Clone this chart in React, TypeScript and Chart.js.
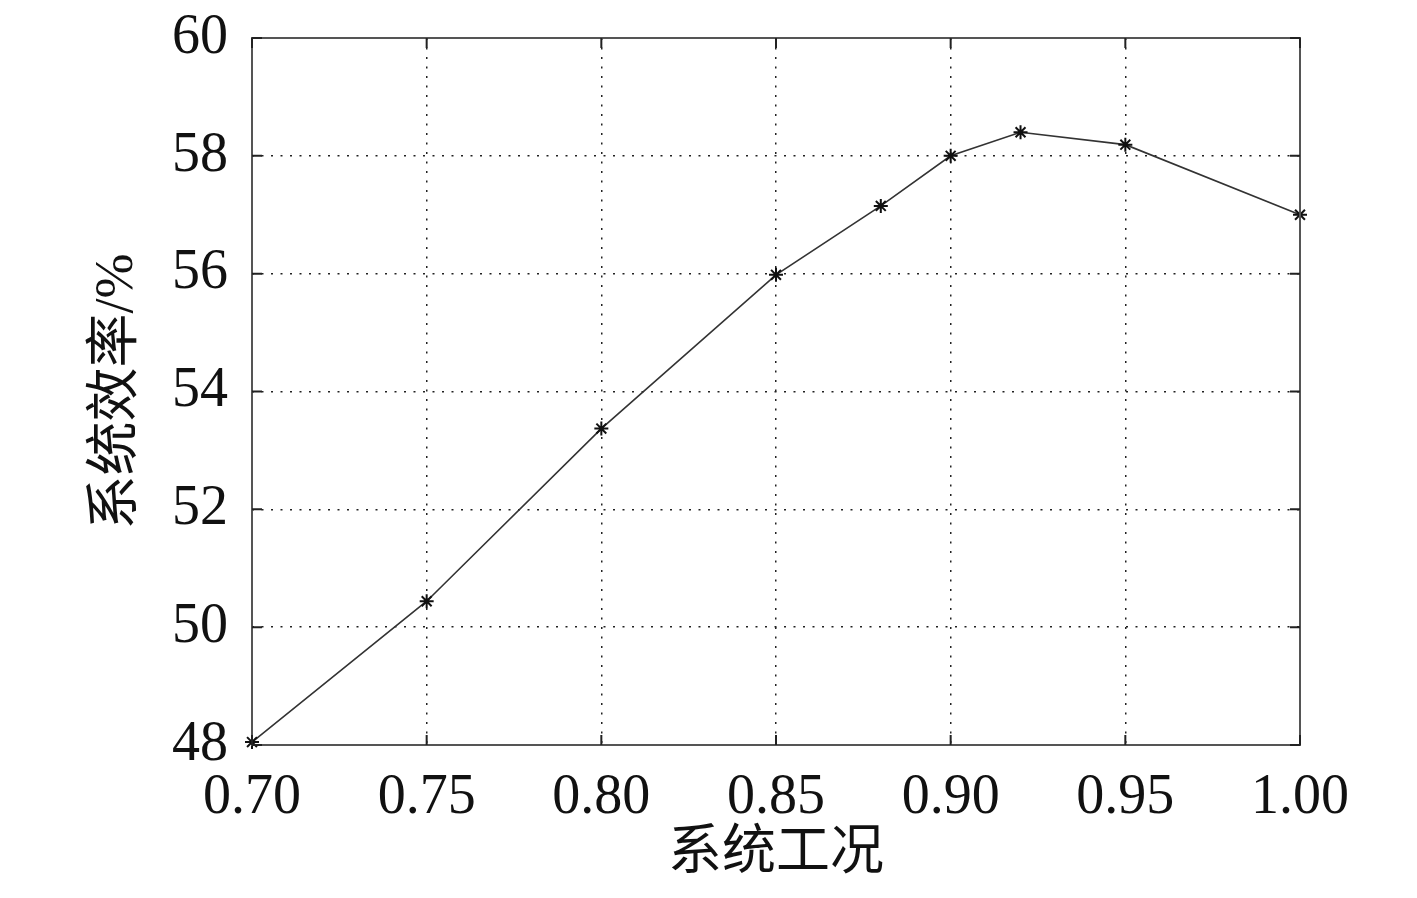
import React, { useEffect, useRef } from "react";
import { Chart, registerables } from "chart.js";

Chart.register(...registerables);

const xValues = [0.7, 0.75, 0.8, 0.85, 0.88, 0.9, 0.92, 0.95, 1.0];
const efficiency = [48.05, 50.44, 53.37, 55.98, 57.15, 58.0, 58.4, 58.19, 57.0];
const xTitle = "系统工况";
const yTitle = "系统效率/%";
const xTicks = [0.7, 0.75, 0.8, 0.85, 0.9, 0.95, 1.0];
const yTicks = [48, 50, 52, 54, 56, 58, 60];

const FONT = '"Liberation Serif", "Noto Sans CJK SC", serif';

const framePlugin = {
  id: "frame",
  afterDraw(chart: any) {
    const { ctx, chartArea } = chart;
    const { left, right, top, bottom } = chartArea;
    const xs = chart.scales.x;
    const ys = chart.scales.y;
    ctx.save();
    ctx.strokeStyle = "#555";
    ctx.lineWidth = 2;
    ctx.strokeRect(left, top, right - left, bottom - top);
    ctx.strokeStyle = "#222";
    ctx.lineWidth = 2;
    const tl = 10;
    xTicks.forEach((v) => {
      const px = xs.getPixelForValue(v);
      ctx.beginPath();
      ctx.moveTo(px, bottom);
      ctx.lineTo(px, bottom - tl);
      ctx.moveTo(px, top);
      ctx.lineTo(px, top + tl);
      ctx.stroke();
    });
    yTicks.forEach((v) => {
      const py = ys.getPixelForValue(v);
      ctx.beginPath();
      ctx.moveTo(left, py);
      ctx.lineTo(left + tl, py);
      ctx.moveTo(right, py);
      ctx.lineTo(right - tl, py);
      ctx.stroke();
    });
    ctx.fillStyle = "#111";
    ctx.font = `54px ${FONT}`;
    ctx.textAlign = "center";
    ctx.textBaseline = "middle";
    ctx.fillText(xTitle, (left + right) / 2, 855);
    ctx.translate(118, (top + bottom) / 2);
    ctx.rotate(-Math.PI / 2);
    ctx.fillText(yTitle, 0, 0);
    ctx.restore();
  },
};

export default function App() {
  const ref = useRef<HTMLCanvasElement>(null);
  useEffect(() => {
    if (!ref.current) return;
    const chart = new Chart(ref.current, {
      type: "line",
      data: {
        datasets: [
          {
            data: xValues.map((x, i) => ({ x, y: efficiency[i] })),
            borderColor: "#333",
            borderWidth: 1.6,
            pointStyle: "star",
            pointRadius: 7,
            pointBorderWidth: 2,
            pointBorderColor: "#111",
            pointBackgroundColor: "#111",
            tension: 0,
            clip: false as any,
          },
        ],
      },
      options: {
        responsive: false,
        animation: false,
        layout: { padding: { top: 38, right: 117, left: 0, bottom: 0 } },
        plugins: { legend: { display: false }, tooltip: { enabled: false } },
        scales: {
          x: {
            type: "linear",
            min: 0.7,
            max: 1.0,
            afterBuildTicks: (s: any) => {
              s.ticks = xTicks.map((v) => ({ value: v }));
            },
            afterFit: (s: any) => {
              s.height = 153;
              s.paddingLeft = 0;
              s.paddingRight = 0;
            },
            ticks: {
              padding: 20,
              color: "#111",
              font: { family: FONT, size: 56 },
              callback: (v: any) => Number(v).toFixed(2),
              maxRotation: 0,
              autoSkip: false,
            },
            grid: {
              color: "#222",
              lineWidth: 1.5,
              drawTicks: false,
            },
            border: { display: false, dash: [2, 7.5] },
          },
          y: {
            type: "linear",
            min: 48,
            max: 60,
            afterBuildTicks: (s: any) => {
              s.ticks = yTicks.map((v) => ({ value: v }));
            },
            afterFit: (s: any) => {
              s.width = 252;
              s.paddingTop = 0;
              s.paddingBottom = 0;
            },
            ticks: {
              padding: 24,
              color: "#111",
              font: { family: FONT, size: 56 },
              autoSkip: false,
            },
            grid: {
              color: "#222",
              lineWidth: 1.5,
              drawTicks: false,
            },
            border: { display: false, dash: [2, 7.5] },
          },
        },
      },
      plugins: [framePlugin],
    });
    return () => chart.destroy();
  }, []);
  return (
    <div style={{ position: "fixed", left: 0, top: 0, width: 1417, height: 898, background: "#fff" }}>
      <canvas ref={ref} width={1417} height={898} style={{ display: "block" }} />
    </div>
  );
}
